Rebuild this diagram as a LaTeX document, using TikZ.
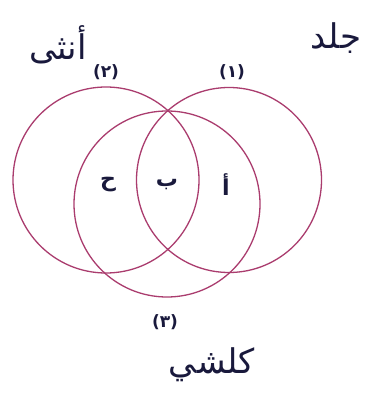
\documentclass[tikz,border=0pt]{standalone}
\usepackage{fontspec}
\newfontfamily\arabicfont[Script=Arabic]{DejaVu Sans}
\TeXXeTstate=1
\definecolor{ring}{RGB}{170,60,110}
\definecolor{ink}{RGB}{25,25,60}
\begin{document}
\begin{tikzpicture}[x=1pt,y=-1pt,
  ringline/.style={draw=ring,line width=1.3pt},
  word/.style={text=ink,font=\arabicfont\fontsize{34}{38}\selectfont,inner sep=0pt},
  region/.style={text=ink,font=\arabicfont\bfseries\fontsize{22}{26}\selectfont,inner sep=0pt},
  num/.style={text=ink,font=\arabicfont\bfseries\fontsize{17}{20}\selectfont,inner sep=0pt}]
\useasboundingbox[fill=white] (0,0) rectangle (368,411);
\node[ringline,circle,minimum size=186pt,inner sep=0pt] (c2) at (106,180) {};
\node[ringline,circle,minimum size=185pt,inner sep=0pt] (c1) at (229,180) {};
\node[ringline,circle,minimum size=186pt,inner sep=0pt] (c3) at (167,204) {};
\node[num] (n2) at (106,72) {(٢)};
\node[num] (n1) at (232,72) {(١)};
\node[num] (n3) at (165,322) {(٣)};
\node[word] (w2) at (58,45) {\beginR أنثى\endR};
\node[word] (w1) at (336,38) {\beginR جلد\endR};
\node[word] (w3) at (212,365) {\beginR كلشي\endR};
\node[region] (rh) at (108,185) {\beginR ح\endR};
\node[region] (rb) at (167,185) {\beginR ب\endR};
\node[region] (ra) at (226,185) {\beginR أ\endR};
\end{tikzpicture}
\end{document}
